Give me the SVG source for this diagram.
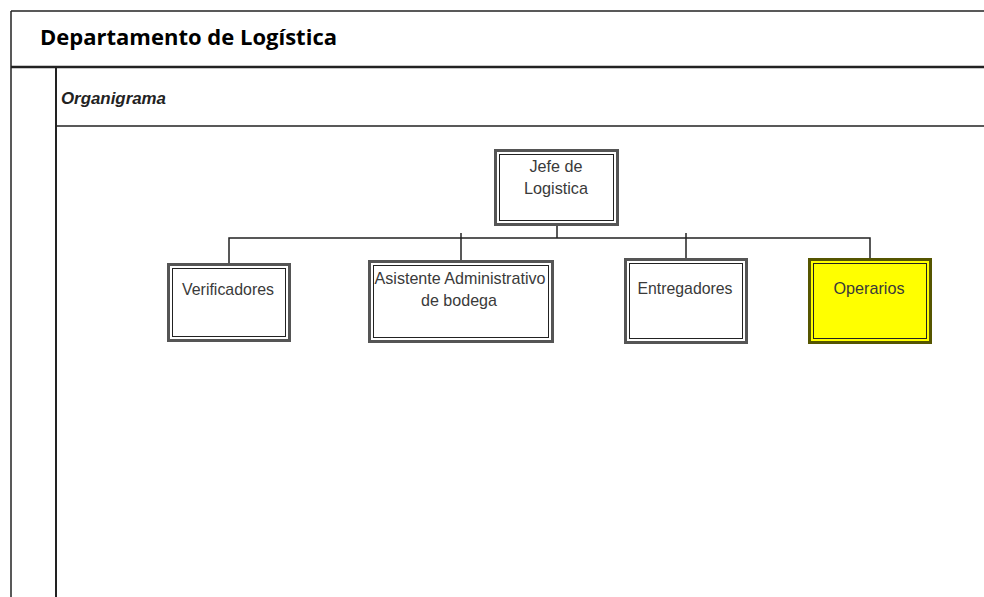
<svg xmlns="http://www.w3.org/2000/svg" width="984" height="597" viewBox="0 0 984 597">
  <style>
    .frame { stroke: #222; fill: none; }
    .outer { fill: #fff; stroke: #555; stroke-width: 3; }
    .inner { fill: none; stroke: #222; stroke-width: 1; }
    .lbl { font-family: "Liberation Sans", Arial, sans-serif; font-size: 17px; fill: #3a3a3a; text-anchor: middle; }
    .conn { stroke: #222; stroke-width: 1.5; fill: none; }
  </style>
  <rect width="984" height="597" fill="#fff"/>

  <!-- swimlane frame -->
  <g id="frame">
    <line class="frame" x1="11" y1="11" x2="984" y2="11" stroke-width="1.5"/>
    <line class="frame" x1="11" y1="11" x2="11" y2="597" stroke-width="1.5"/>
    <line class="frame" x1="11" y1="67" x2="984" y2="67" stroke-width="2.5"/>
    <line class="frame" x1="56" y1="67" x2="56" y2="597" stroke-width="2"/>
    <line class="frame" x1="56" y1="126" x2="984" y2="126" stroke-width="1.5"/>
    <text x="40" y="45" font-family="'Open Sans', 'Liberation Sans', sans-serif" font-weight="bold" font-size="21" fill="#000" textLength="297" lengthAdjust="spacingAndGlyphs">Departamento de Logística</text>
    <text x="61" y="104" font-family="'Liberation Sans', Arial, sans-serif" font-weight="bold" font-style="italic" font-size="17" fill="#222" textLength="105" lengthAdjust="spacingAndGlyphs">Organigrama</text>
  </g>

  <!-- connectors -->
  <g id="connectors">
    <line class="conn" x1="557" y1="225" x2="557" y2="238"/>
    <polyline class="conn" points="229,263 229,238 870,238 870,258"/>
    <line class="conn" x1="461" y1="233" x2="461" y2="260"/>
    <line class="conn" x1="686" y1="233" x2="686" y2="258"/>
  </g>

  <g id="jefe">
    <rect class="outer" x="495.5" y="150.5" width="122" height="74"/>
    <rect class="inner" x="499.5" y="154.5" width="114" height="66"/>
    <text class="lbl" x="556" y="172" textLength="53" lengthAdjust="spacingAndGlyphs">Jefe de</text>
    <text class="lbl" x="556" y="194" textLength="64" lengthAdjust="spacingAndGlyphs">Logistica</text>
  </g>

  <g id="verificadores">
    <rect class="outer" x="168.5" y="264.5" width="121" height="76"/>
    <rect class="inner" x="172.5" y="268.5" width="113" height="68"/>
    <text class="lbl" x="228" y="295" textLength="92" lengthAdjust="spacingAndGlyphs">Verificadores</text>
  </g>

  <g id="asistente">
    <rect class="outer" x="369.5" y="261.5" width="183" height="80"/>
    <rect class="inner" x="373.5" y="265.5" width="175" height="72"/>
    <text class="lbl" x="460" y="284" textLength="171" lengthAdjust="spacingAndGlyphs">Asistente Administrativo</text>
    <text class="lbl" x="459" y="306" textLength="76" lengthAdjust="spacingAndGlyphs">de bodega</text>
  </g>

  <g id="entregadores">
    <rect class="outer" x="625.5" y="259.5" width="121" height="83"/>
    <rect class="inner" x="629.5" y="263.5" width="113" height="75"/>
    <text class="lbl" x="685" y="294" textLength="95" lengthAdjust="spacingAndGlyphs">Entregadores</text>
  </g>

  <g id="operarios">
    <rect x="809.5" y="259.5" width="121" height="83" fill="#ffff00" stroke="#555500" stroke-width="3"/>
    <rect class="inner" x="813.5" y="263.5" width="113" height="75"/>
    <text class="lbl" x="869" y="294" fill="#333300" textLength="71" lengthAdjust="spacingAndGlyphs">Operarios</text>
  </g>
</svg>
